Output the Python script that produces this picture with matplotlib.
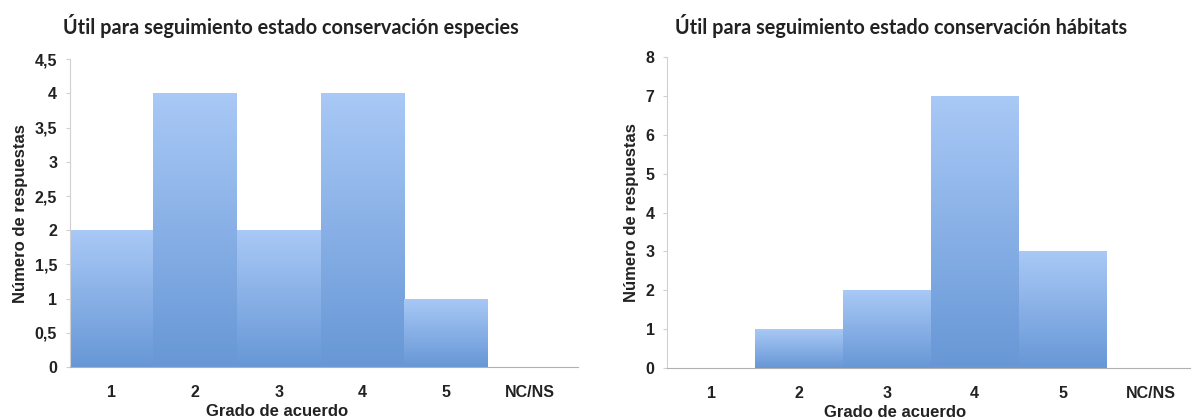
import numpy as np
import matplotlib.pyplot as plt
from matplotlib.colors import LinearSegmentedColormap

categorias = ['1', '2', '3', '4', '5', 'NC/NS']
especies = [2, 4, 2, 4, 1, 0]
habitats = [0, 1, 2, 7, 3, 0]

titulo_esp = 'Útil para seguimiento estado conservación especies'
titulo_hab = 'Útil para seguimiento estado conservación hábitats'
ticks_esp = [0, 0.5, 1, 1.5, 2, 2.5, 3, 3.5, 4, 4.5]
ticks_hab = [0, 1, 2, 3, 4, 5, 6, 7, 8]

grad = LinearSegmentedColormap.from_list('g', ['#6797d6', '#a9c9f6'])


def barras(ax, valores, ymax, ticks, titulo, xmax, tx, tpad, lx):
    x = np.arange(len(valores))
    bars = ax.bar(x, valores, width=1.0, color='none', edgecolor='none')
    for b in bars:
        h = b.get_height()
        if h <= 0:
            continue
        x0 = b.get_x()
        w = b.get_width()
        img = np.linspace(0, 1, 256).reshape(-1, 1)
        im = ax.imshow(img, cmap=grad, origin='lower', aspect='auto',
                       extent=(x0, x0 + w, 0, h), zorder=2)
        im.set_clip_path(b)
    ax.set_xlim(-0.5, xmax)
    ax.set_ylim(0, ymax)
    ax.set_xticks(x)
    ax.set_xticklabels(categorias)
    ax.set_yticks(ticks)
    ax.set_yticklabels([str(t).replace('.', ',') if t % 1 else str(int(t)) for t in ticks])
    for s in ['top', 'right']:
        ax.spines[s].set_visible(False)
    ax.spines['left'].set_color('#d0d0d0')
    ax.spines['bottom'].set_color('#b0b0b0')
    ax.tick_params(axis='x', length=0, pad=13)
    ax.tick_params(axis='y', length=3, color='#d0d0d0', pad=6)
    for lab in ax.get_xticklabels() + ax.get_yticklabels():
        lab.set_fontfamily('Liberation Sans')
        lab.set_fontweight('bold')
        lab.set_fontsize(11.5)
        lab.set_color('#222222')
    ax.set_xlabel('Grado de acuerdo', fontfamily='Liberation Sans', fontweight='bold',
                  fontsize=12, color='#222222', labelpad=1)
    ax.xaxis.set_label_coords(lx, -0.12)
    ax.set_ylabel('Número de respuestas', fontfamily='Liberation Sans', fontweight='bold',
                  fontsize=12, color='#222222', labelpad=5)
    ax.set_title(titulo, fontfamily='Lato', fontweight='bold', fontsize=14.3,
                 color='#222222', pad=tpad, loc='left', x=tx)


fig = plt.figure(figsize=(12.02, 4.2), dpi=100)
ax1 = fig.add_axes([0.058, 0.126, 0.423, 0.733])
ax2 = fig.add_axes([0.555, 0.124, 0.435, 0.740])
barras(ax1, especies, 4.5, ticks_esp, titulo_esp, 5.58, -0.014, 18, 0.407)
barras(ax2, habitats, 8, ticks_hab, titulo_hab, 5.45, 0.015, 17, 0.436)
fig.savefig('out.png', dpi=100)
